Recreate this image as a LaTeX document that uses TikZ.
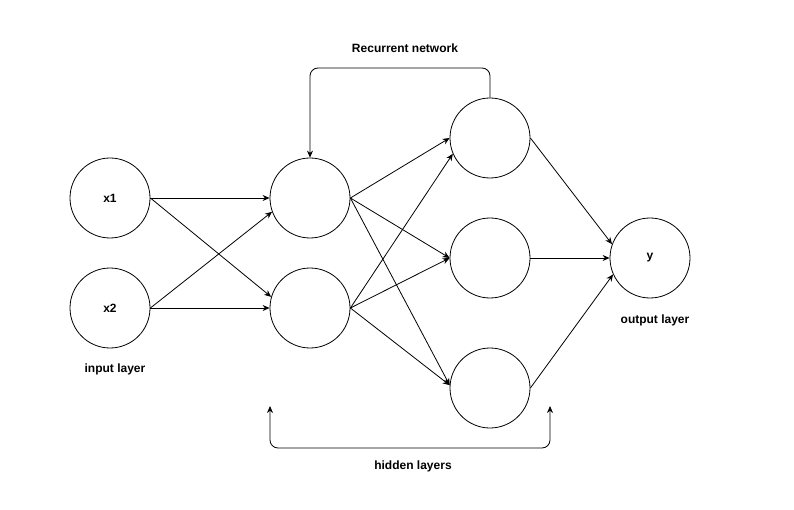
\documentclass[tikz,border=0pt]{standalone}
\usepackage{fontspec}
\setmainfont{Liberation Sans}
\usetikzlibrary{arrows.meta}
\begin{document}
\begin{tikzpicture}[x=1pt,y=-1pt,
  neuron/.style={circle,draw,line width=0.8pt,minimum size=80pt,inner sep=0pt,font=\fontsize{12}{14}\selectfont\bfseries},
  conn/.style={-{Stealth[length=7pt,width=6pt]},line width=0.8pt},
  lbl/.style={font=\fontsize{12}{14}\selectfont\bfseries}]
\useasboundingbox (0,0) rectangle (794,510);
\node[neuron] (x1) at (110,198) {x1};
\node[neuron] (x2) at (110,308) {x2};
\node[neuron] (h1) at (310,198) {};
\node[neuron] (h2) at (310,308) {};
\node[neuron] (g1) at (490,138) {};
\node[neuron] (g2) at (490,258) {};
\node[neuron] (g3) at (490,388) {};
\node[neuron] (y) at (650,258) {y};
\node[lbl] (lin) at (115,369) {input layer};
\node[lbl] (lout) at (655,320) {output layer};
\node[lbl] (lrec) at (405,48) {Recurrent network};
\node[lbl] (lhid) at (413,466) {hidden layers};
\coordinate (hl) at (270,406);
\coordinate (hr) at (550,406);
% input -> hidden 1
\draw[conn] (x1.east) -- (h1.west);
\draw[conn] (x1.east) -- (h2.164);
\draw[conn] (x2.east) -- (h1.200);
\draw[conn] (x2.east) -- (h2.west);
% hidden 1 -> hidden 2
\draw[conn] (h1.east) -- (g1.west);
\draw[conn] (h1.east) -- (g2.west);
\draw[conn] (h1.east) -- (g3.176);
\draw[conn] (h2.east) -- (g1.203);
\draw[conn] (h2.east) -- (g2.west);
\draw[conn] (h2.east) -- (g3.176);
% hidden 2 -> output
\draw[conn] (g1.east) -- (y.160);
\draw[conn] (g2.east) -- (y.west);
\draw[conn] (g3.east) -- (y.204);
% recurrent
\draw[conn,rounded corners=8pt] (g1.north) |- (310,68) -- (h1.north);
% hidden layers bracket
\draw[line width=0.8pt,rounded corners=8pt,{Stealth[length=7pt,width=6pt]}-{Stealth[length=7pt,width=6pt]}] (hl) -- (270,448) -- (550,448) -- (hr);
\end{tikzpicture}
\end{document}
